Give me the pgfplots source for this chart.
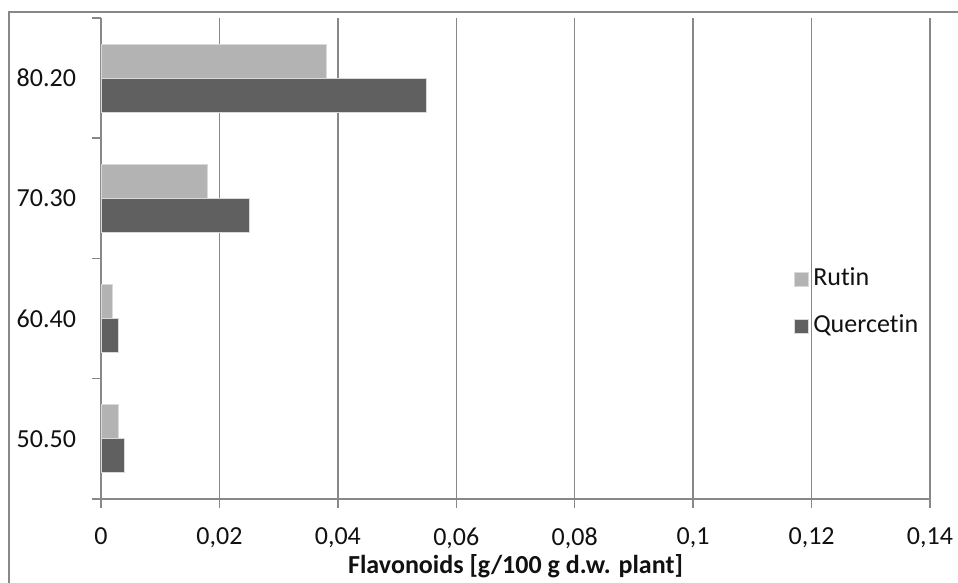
\documentclass[border=0pt]{standalone}
\usepackage{pgfplots}
\pgfplotsset{compat=1.18}
\usepackage{fontspec}
\setmainfont{Carlito}[Ligatures=NoCommon]
\definecolor{rut}{HTML}{B3B3B3}
\definecolor{que}{HTML}{606060}
\definecolor{gridc}{HTML}{888888}
\definecolor{txt}{HTML}{111111}
\begin{document}
\begin{tikzpicture}[x=1pt,y=1pt]
\useasboundingbox (0,0) rectangle (479,291.5);
\fill[white] (0,0) rectangle (479,291.5);
\draw[gridc, line width=1pt] (4.5,-10) -- (4.5,285.5) -- (500,285.5);
\begin{axis}[
  at={(50.5pt,42pt)}, anchor=south west,
  scale only axis, width=414.5pt, height=240.5pt,
  xbar, bar width=17pt,
  xmin=0, xmax=0.14, ymin=-0.5, ymax=3.5,
  axis lines*=left,
  axis line style={gridc, line width=0.75pt},
  xtick={0,0.02,0.04,0.06,0.08,0.1,0.12,0.14},
  ytick={-0.5,0.5,1.5,2.5,3.5}, yticklabels={},
  extra y ticks={0,1,2,3},
  extra y tick labels={50.50,60.40,70.30,80.20},
  extra y tick style={tick style={draw=none}},
  tick align=outside,
  major tick length=4.5pt,
  tick style={gridc, line width=0.75pt},
  xmajorgrids,
  grid style={gridc, line width=0.75pt},
  ticklabel style={font=\fontsize{13}{15}\selectfont, text=txt},
  xticklabel style={yshift=-6.5pt},
  yticklabel style={xshift=-4.5pt},
  scaled x ticks=false,
  /pgf/number format/.cd, use comma, fixed, precision=2, assume math mode=true,
  /pgfplots/.cd,
  xlabel={\textbf{Flavonoids [g/100 g d.w. plant]}},
  xlabel style={at={(axis description cs:0.5,0)}, anchor=center, yshift=-33.5pt, font=\fontsize{13}{15}\selectfont, text=txt},
  legend style={at={(axis description cs:0.836,0.4075)}, anchor=west, draw=none, fill=none, inner sep=0pt,
    font=\fontsize{13}{15}\selectfont, text=txt, row sep=7.8pt,
    nodes={text height=9pt, text depth=3pt},
    /tikz/every odd column/.append style={xshift=1.5pt}},
  legend cell align=left,
  legend image code/.code={\fill[#1] (0pt,-3.5pt) rectangle (7pt,3.5pt);},
]
\addplot[fill=rut, draw=white!85!black, line width=0.4pt, bar shift=8.5pt]
  coordinates {(0.003,0) (0.002,1) (0.018,2) (0.038,3)};
\addlegendentry{Rutin}
\addplot[fill=que, draw=white!85!black, line width=0.4pt, bar shift=-8.5pt]
  coordinates {(0.004,0) (0.003,1) (0.025,2) (0.055,3)};
\addlegendentry{Quercetin}
\end{axis}
\end{tikzpicture}
\end{document}
